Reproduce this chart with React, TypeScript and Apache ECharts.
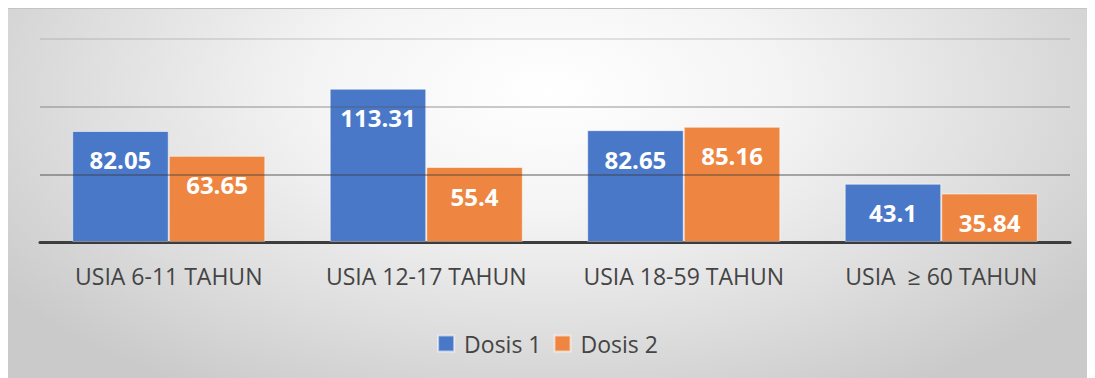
import React, { useEffect, useRef } from "react";
import * as echarts from "echarts";

const categories = ["USIA 6-11 TAHUN", "USIA 12-17 TAHUN", "USIA 18-59 TAHUN", "USIA  ≥ 60 TAHUN"];
const dosis1 = [82.05, 113.31, 82.65, 43.1];
const dosis2 = [63.65, 55.4, 85.16, 35.84];
const seriesNames = ["Dosis 1", "Dosis 2"];
const yTicks = { min: 0, max: 150, interval: 50 };

const FONT = "'Open Sans', 'Noto Sans', sans-serif";

export default function App() {
  const ref = useRef<HTMLDivElement>(null);

  useEffect(() => {
    if (!ref.current) return;
    const chart = echarts.init(ref.current, undefined, { renderer: "svg" });

    const label = {
      show: true,
      position: "insideTop",
      distance: 17,
      color: "#ffffff",
      fontFamily: FONT,
      fontWeight: "bold",
      fontSize: 24,
    };

    chart.setOption({
      animation: false,
      backgroundColor: "transparent",
      textStyle: { fontFamily: FONT },
      grid: { left: 32, right: 17, top: 30, bottom: 136, containLabel: false },
      legend: {
        top: 318,
        left: "center",
        icon: "rect",
        itemWidth: 16,
        itemHeight: 16,
        itemGap: 12,
        textStyle: { fontFamily: FONT, fontSize: 23, color: "#444444", padding: [0, 0, 0, 5] },
        data: seriesNames,
      },
      xAxis: {
        type: "category",
        data: categories,
        axisTick: { show: false },
        axisLine: { show: true, lineStyle: { color: "#3a3a3a", width: 3 } },
        axisLabel: { fontFamily: FONT, fontSize: 23, color: "#444444", margin: 22, interval: 0 },
      },
      yAxis: {
        type: "value",
        min: yTicks.min,
        max: yTicks.max,
        interval: yTicks.interval,
        z: 3,
        axisLabel: { show: false },
        axisLine: { show: false },
        axisTick: { show: false },
        splitLine: {
          show: true,
          lineStyle: {
            color: ["rgba(70,70,70,0.5)", "rgba(60,60,60,0.55)", "rgba(80,80,80,0.4)", "rgba(120,120,120,0.25)"],
            width: 1.5,
          },
        },
      },
      series: [
        {
          name: seriesNames[0],
          type: "bar",
          data: dosis1,
          barGap: "0%",
          barCategoryGap: "25%",
          itemStyle: { color: "#4a78c9", borderColor: "rgba(255,255,255,0.55)", borderWidth: 1 },
          label,
        },
        {
          name: seriesNames[1],
          type: "bar",
          data: dosis2,
          barGap: "0%",
          barCategoryGap: "25%",
          itemStyle: { color: "#ee8641", borderColor: "rgba(255,255,255,0.55)", borderWidth: 1 },
          label,
        },
      ],
    });

    return () => chart.dispose();
  }, []);

  return (
    <div
      ref={ref}
      style={{
        width: 1079,
        height: 370,
        boxSizing: "border-box",
        borderTop: "1px solid #c4c4c4",
        background:
          "radial-gradient(ellipse 62% 95% at 50% 22%, #ffffff 0%, #f4f4f4 35%, #dedede 70%, #cacaca 100%)",
      }}
    />
  );
}
